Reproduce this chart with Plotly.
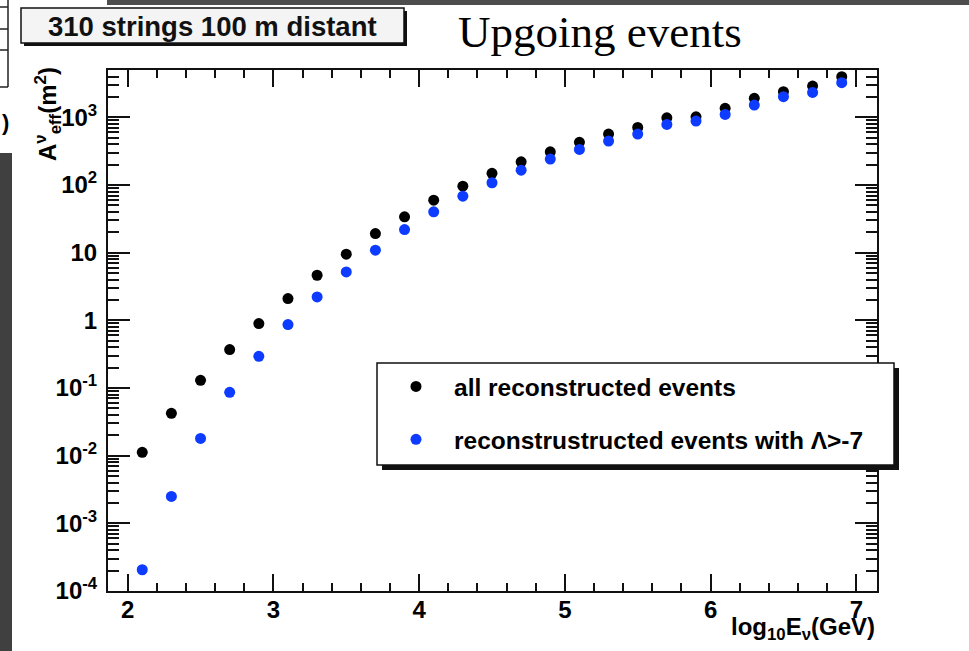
import plotly.graph_objects as go

# ---- data ----
log_energy = [2.1, 2.3, 2.5, 2.7, 2.9, 3.1, 3.3, 3.5, 3.7, 3.9, 4.1, 4.3, 4.5,
              4.7, 4.9, 5.1, 5.3, 5.5, 5.7, 5.9, 6.1, 6.3, 6.5, 6.7, 6.9]
all_reconstructed = [0.0112, 0.0423, 0.130, 0.370, 0.897, 2.10, 4.64, 9.5, 19.2,
                     33.9, 59.8, 96.3, 149, 220, 310, 427, 566, 711, 986, 1020,
                     1360, 1910, 2390, 2900, 3990]
lambda_cut = [2.06e-4, 2.5e-3, 0.018, 0.0863, 0.294, 0.867, 2.22, 5.20, 10.9,
              22.0, 40.2, 68.5, 108, 166, 242, 336, 446, 566, 787, 882, 1107,
              1520, 2020, 2340, 3250]

series_names = ["all reconstructed events", "reconstrustructed events with \u039b>-7"]
x_tick_vals = [2, 3, 4, 5, 6, 7]
x_tick_text = ["2", "3", "4", "5", "6", "7"]
y_tick_vals = [1e-4, 1e-3, 1e-2, 1e-1, 1, 10, 100, 1000]
y_tick_text = ["10<sup>-4</sup>", "10<sup>-3</sup>", "10<sup>-2</sup>", "10<sup>-1</sup>",
               "1", "10", "10<sup>2</sup>", "10<sup>3</sup>"]

W, H = 969, 651
L, R, T, B = 108, 877, 70, 591
def px(xp):
    return (xp - L) / (R - L)
def py(yp):
    return (B - yp) / (B - T)

FONT = "Liberation Sans, Arial, Helvetica, sans-serif"
X_RANGE = [1.865, 7.142]

y_minor = [k * 10.0 ** d for d in range(-4, 4) for k in range(2, 10)]
y_minor = [v for v in y_minor if v < 10 ** 3.70]

fig = go.Figure()
fig.add_trace(go.Scatter(x=log_energy, y=all_reconstructed, mode="markers",
                         name=series_names[0], legendgroup="a",
                         marker=dict(color="#000000", size=11)))
fig.add_trace(go.Scatter(x=log_energy, y=lambda_cut, mode="markers",
                         name=series_names[1], legendgroup="b",
                         marker=dict(color="#0d3bff", size=11)))
# invisible companion trace so the minor-tick overlay axis is drawn
fig.add_trace(go.Scatter(x=log_energy, y=all_reconstructed, mode="markers", xaxis="x2",
                         marker=dict(opacity=0), showlegend=False, hoverinfo="skip"))

shapes = []
# screenshot background fragments
shapes.append(dict(type="rect", xref="paper", yref="paper", x0=px(107), x1=px(969),
                   y0=py(0), y1=py(5), fillcolor="#4d4d4d", line=dict(width=0)))
shapes.append(dict(type="rect", xref="paper", yref="paper", x0=px(0), x1=px(12),
                   y0=py(153), y1=py(651), fillcolor="#404040", line=dict(width=0)))
shapes.append(dict(type="line", xref="paper", yref="paper", x0=px(8), x1=px(8),
                   y0=py(0), y1=py(87), line=dict(color="#222", width=1.5)))
for yy in [7, 29, 50, 87]:
    shapes.append(dict(type="line", xref="paper", yref="paper", x0=px(0), x1=px(8),
                       y0=py(yy), y1=py(yy), line=dict(color="#222", width=1.5)))
# title box with shadow
shapes.append(dict(type="rect", xref="paper", yref="paper", x0=px(24), x1=px(407),
                   y0=py(11), y1=py(46), fillcolor="#111", line=dict(width=0)))
shapes.append(dict(type="rect", xref="paper", yref="paper", x0=px(21), x1=px(404),
                   y0=py(8), y1=py(43), fillcolor="#f4f4f4", line=dict(color="#111", width=1.5)))
# legend box with shadow
shapes.append(dict(type="rect", xref="paper", yref="paper", x0=px(382), x1=px(899),
                   y0=py(368), y1=py(470), fillcolor="#111", line=dict(width=0), layer="above"))
shapes.append(dict(type="rect", xref="paper", yref="paper", x0=px(377), x1=px(894),
                   y0=py(363), y1=py(465), fillcolor="#ffffff", line=dict(color="#111", width=1.5),
                   layer="above"))

annotations = [
    dict(text="<b>310 strings 100 m distant</b>", xref="paper", yref="paper",
         x=px(212), y=py(26), xanchor="center", yanchor="middle", showarrow=False,
         font=dict(family=FONT, size=27.5, color="#111")),
    dict(text="Upgoing events", xref="paper", yref="paper",
         x=px(600), y=py(32), xanchor="center", yanchor="middle", showarrow=False,
         font=dict(family="Liberation Serif, Times New Roman, serif", size=45, color="#000")),
    dict(text="<b>A<sup>\u03bd</sup><sub>eff</sub>(m<sup>2</sup>)</b>", xref="paper", yref="paper",
         x=px(48), y=py(114), xanchor="center", yanchor="middle", showarrow=False,
         textangle=-90, font=dict(family=FONT, size=24, color="#000")),
    dict(text="<b>log<sub>10</sub>E<sub>\u03bd</sub>(GeV)</b>", xref="paper", yref="paper",
         x=px(877), y=py(628), xanchor="right", yanchor="middle", showarrow=False,
         font=dict(family=FONT, size=24, color="#000")),
    dict(text="<b>)</b>", xref="paper", yref="paper",
         x=px(0), y=py(122), xanchor="left", yanchor="middle", showarrow=False,
         font=dict(family=FONT, size=22, color="#000")),
]

fig.update_layout(
    width=W, height=H,
    margin=dict(l=L, r=W - R, t=T, b=H - B),
    paper_bgcolor="white", plot_bgcolor="white",
    shapes=shapes, annotations=annotations,
    showlegend=True,
    legend=dict(x=px(378), y=py(364), xanchor="left", yanchor="top",
                bgcolor="rgba(0,0,0,0)", borderwidth=0,
                font=dict(family=FONT, size=24.5, color="#000", weight="bold"),
                traceorder="grouped", tracegroupgap=18, itemwidth=66),
    xaxis=dict(range=X_RANGE, showline=True, linecolor="#111", linewidth=2,
               mirror="ticks", ticks="inside", ticklen=17, tickwidth=1.5, tickcolor="#111",
               tickmode="array", tickvals=x_tick_vals, ticktext=x_tick_text,
               tickfont=dict(family=FONT, size=24, color="#000", weight="bold"),
               showgrid=False, zeroline=False, ticklabelstandoff=-4),
    xaxis2=dict(range=X_RANGE, overlaying="x", anchor="y", side="bottom",
                showline=True, linecolor="#111", linewidth=2, mirror="ticks",
                ticks="inside", ticklen=8, tickwidth=1.5, tickcolor="#111",
                tickmode="linear", tick0=2, dtick=0.2, showticklabels=False,
                showgrid=False, zeroline=False),
    yaxis=dict(type="log", range=[-4, 3.70], showline=True, linecolor="#111", linewidth=2,
               mirror="ticks", ticks="inside", ticklen=22, tickwidth=1.5, tickcolor="#111",
               tickmode="array", tickvals=y_tick_vals, ticktext=y_tick_text,
               tickfont=dict(family=FONT, size=24, color="#000", weight="bold"),
               minor=dict(ticks="inside", ticklen=11, tickwidth=1.5, tickcolor="#111",
                          tickmode="array", tickvals=y_minor, showgrid=False),
               showgrid=False, zeroline=False, ticklabelstandoff=4),
)

fig.write_html("out.html")
